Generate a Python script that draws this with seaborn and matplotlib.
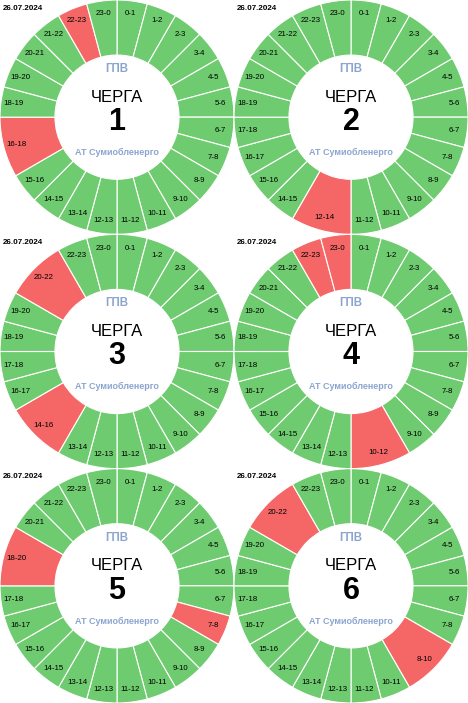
import numpy as np
import pandas as pd
import seaborn as sns
import matplotlib
matplotlib.use("Agg")
import matplotlib.pyplot as plt

sns.set_theme(style="white")
plt.rcParams['font.family'] = ['Liberation Sans', 'DejaVu Sans']

# data
date_label = "26.07.2024"
queues = [1, 2, 3, 4, 5, 6]
# outage blocks per queue (start hour, end hour), each block is one red wedge
outages_q1 = [(16, 18), (22, 23)]
outages_q2 = [(12, 14)]
outages_q3 = [(14, 16), (20, 22)]
outages_q4 = [(10, 12), (22, 23), (23, 24)]
outages_q5 = [(7, 8), (18, 20)]
outages_q6 = [(8, 10), (20, 22)]
outages = [outages_q1, outages_q2, outages_q3, outages_q4, outages_q5, outages_q6]

title_top = "ГПВ"
title_mid = "ЧЕРГА"
title_bottom = "АТ Сумиобленерго"

green = "#6fcb6f"
red = "#f56767"
blue_grey = "#8ba5cf"


def build_segments(blocks):
    # split the day into wedges: one per hour, or one per outage block
    starts = {s: e for s, e in blocks}
    rows = []
    h = 0
    while h < 24:
        if h in starts:
            e = starts[h]
            rows.append((h, e, True))
            h = e
        else:
            rows.append((h, h + 1, False))
            h += 1
    df = pd.DataFrame(rows, columns=["start", "end", "off"])
    df["size"] = df["end"] - df["start"]
    df["label"] = df["start"].astype(str) + "-" + (df["end"] % 24).astype(str)
    return df


W, H = 468, 703
fig = plt.figure(figsize=(W / 100, H / 100), dpi=100)
pw = 234 / W
ph = 234.33 / H

for i, q in enumerate(queues):
    row, col = i // 2, i % 2
    ax = fig.add_axes([col * pw, 1 - (row + 1) * ph, pw, ph])
    seg = build_segments(outages[i])
    cols = [red if o else green for o in seg["off"]]
    wedges, _ = ax.pie(seg["size"], colors=cols, startangle=90, counterclock=False,
                       radius=1.0,
                       wedgeprops=dict(width=0.47, edgecolor="white", linewidth=0.8))
    for w, lab in zip(wedges, seg["label"]):
        ang = np.deg2rad((w.theta1 + w.theta2) / 2)
        ax.text(0.89 * np.cos(ang), 0.89 * np.sin(ang), lab, ha="center", va="center",
                fontsize=5.7, color="black")

    ax.text(0, 0.41, title_top, ha="center", va="center", fontsize=8.3,
            fontweight="bold", color=blue_grey)
    ax.text(0, 0.17, title_mid, ha="center", va="center", fontsize=12, color="black")
    ax.text(0, -0.04, str(q), ha="center", va="center", fontsize=22,
            fontweight="bold", color="black")
    ax.text(0, -0.30, title_bottom, ha="center", va="center", fontsize=6.5,
            fontweight="bold", color=blue_grey)
    ax.text(-0.975, 0.93, date_label, ha="left", va="center", fontsize=5.8,
            fontweight="bold", color="black")

    ax.set_xlim(-1.0, 1.0)
    ax.set_ylim(-1.0, 1.0)
    ax.set_aspect("auto")
    ax.axis("off")

fig.savefig("out.png", dpi=100)
